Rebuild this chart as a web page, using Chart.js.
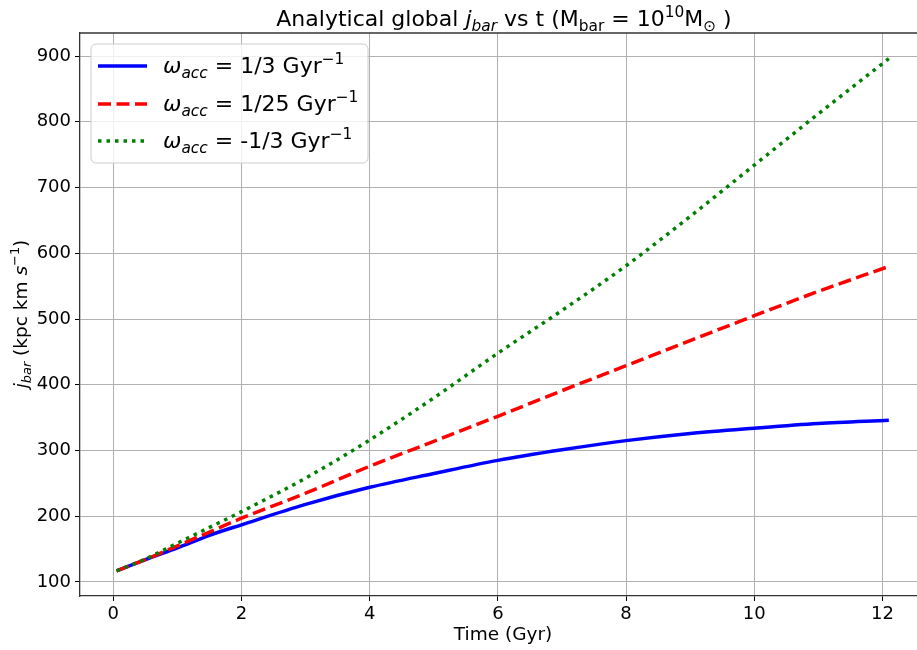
<!DOCTYPE html>
<html><head><meta charset="utf-8">
<script src="https://cdn.jsdelivr.net/npm/chart.js@4/dist/chart.umd.min.js"></script>
<style>html,body{margin:0;padding:0;overflow:hidden;background:#fff}#wrap{width:940px;height:650px}</style>
</head><body><div id="wrap"><canvas id="c" width="940" height="650"></canvas></div>
<script>
// ---- data ----
const timeGyr = [0.05, 0.5, 1, 1.5, 2, 3, 4, 5, 6, 7, 8, 9, 10, 11, 12.1];
const jbarOmegaThird = [117, 134, 152, 171, 187, 218, 244, 265, 285, 301, 315, 326, 334, 341, 346];
const jbarOmega25 = [117, 134, 155, 176, 197, 235, 276, 314, 352, 391, 429, 467, 505, 542, 580];
const jbarOmegaNegThird = [117, 135, 159, 183, 207, 258, 316, 380, 448, 513, 581, 656, 734, 812, 896];
const xTicks = [0, 2, 4, 6, 8, 10, 12];
const yTicks = [100, 200, 300, 400, 500, 600, 700, 800, 900];
const legendValues = ['1/3', '1/25', '-1/3'];

const FONT = '"DejaVu Sans", sans-serif';
function segFont(s, size) {
  const sz = (s.sub || s.sup) ? size * 0.7 : size;
  return (s.it ? 'italic ' : '') + sz.toFixed(1) + 'px ' + FONT;
}
function richWidth(ctx, segs, size) {
  let w = 0;
  for (const s of segs) { ctx.font = segFont(s, size); w += ctx.measureText(s.t).width; }
  return w;
}
function drawRich(ctx, segs, x, y, size, align) {
  const w = richWidth(ctx, segs, size);
  let cx = align === 'center' ? x - w / 2 : x;
  ctx.textAlign = 'left'; ctx.textBaseline = 'alphabetic';
  for (const s of segs) {
    ctx.font = segFont(s, size);
    const dy = s.sub ? size * 0.22 : (s.sup ? -size * 0.42 : 0);
    ctx.fillText(s.t, cx, y + dy);
    cx += ctx.measureText(s.t).width;
  }
}

const pts = arr => arr.map((v, i) => ({x: timeGyr[i], y: v}));

const decor = {
  id: 'decor',
  afterDraw(chart) {
    const ctx = chart.ctx, a = chart.chartArea;
    ctx.save();
    // top / right spines
    ctx.strokeStyle = '#333'; ctx.lineWidth = 1.3;
    ctx.beginPath(); ctx.moveTo(a.left, a.top); ctx.lineTo(a.right, a.top); ctx.stroke();
    ctx.beginPath(); ctx.moveTo(a.right, a.top); ctx.lineTo(a.right, a.bottom); ctx.stroke();
    ctx.fillStyle = '#000';
    // title
    drawRich(ctx, [
      {t: 'Analytical global '}, {t: 'j', it: true}, {t: 'bar', it: true, sub: true},
      {t: ' vs t (M'}, {t: 'bar', sub: true}, {t: ' = 10'}, {t: '10', sup: true},
      {t: 'M'}, {t: '\u2299', sub: true}, {t: ' )'}
    ], 504, 26, 22, 'center');
    // x title
    drawRich(ctx, [{t: 'Time (Gyr)'}], 503, 640, 18.5, 'center');
    // y title
    ctx.save(); ctx.translate(27, 314); ctx.rotate(-Math.PI / 2);
    drawRich(ctx, [
      {t: 'j', it: true}, {t: 'bar', it: true, sub: true}, {t: ' (kpc km '},
      {t: 's', it: true}, {t: '\u22121', sup: true}, {t: ')'}
    ], 0, 0, 18.5, 'center');
    ctx.restore();
    // legend
    const lx = 91, ly = 44, lw = 277, lh = 119, r = 5;
    ctx.fillStyle = 'rgba(255,255,255,0.8)';
    ctx.strokeStyle = '#cccccc'; ctx.lineWidth = 1;
    ctx.beginPath();
    ctx.moveTo(lx + r, ly); ctx.lineTo(lx + lw - r, ly); ctx.arcTo(lx + lw, ly, lx + lw, ly + r, r);
    ctx.lineTo(lx + lw, ly + lh - r); ctx.arcTo(lx + lw, ly + lh, lx + lw - r, ly + lh, r);
    ctx.lineTo(lx + r, ly + lh); ctx.arcTo(lx, ly + lh, lx, ly + lh - r, r);
    ctx.lineTo(lx, ly + r); ctx.arcTo(lx, ly, lx + r, ly, r); ctx.closePath();
    ctx.fill(); ctx.stroke();
    const rows = [66, 104, 141];
    chart.data.datasets.forEach((ds, i) => {
      const y = rows[i];
      ctx.strokeStyle = ds.borderColor; ctx.lineWidth = ds.borderWidth;
      ctx.setLineDash(ds.borderDash || []); ctx.lineCap = 'butt';
      ctx.beginPath(); ctx.moveTo(98, y); ctx.lineTo(147, y); ctx.stroke();
      ctx.setLineDash([]);
      ctx.fillStyle = '#000';
      drawRich(ctx, [
        {t: '\u03c9', it: true}, {t: 'acc', it: true, sub: true},
        {t: ' = ' + legendValues[i] + ' Gyr'}, {t: '\u22121', sup: true}
      ], 163, y + 7, 22, 'left');
    });
    ctx.restore();
  }
};

new Chart(document.getElementById('c'), {
  type: 'line',
  data: {
    datasets: [
      {label: 'omega 1/3', order: 2, data: pts(jbarOmegaThird), borderColor: '#0000ff', borderWidth: 3.5, pointRadius: 0, cubicInterpolationMode: 'monotone', fill: false},
      {label: 'omega 1/25', order: 1, data: pts(jbarOmega25), borderColor: '#ff0000', borderWidth: 3.5, borderDash: [13, 5.5], pointRadius: 0, cubicInterpolationMode: 'monotone', fill: false},
      {label: 'omega -1/3', order: 0, data: pts(jbarOmegaNegThird), borderColor: '#008000', borderWidth: 3.5, borderDash: [3.5, 5], pointRadius: 0, cubicInterpolationMode: 'monotone', fill: false}
    ]
  },
  options: {
    responsive: false, animation: false, devicePixelRatio: 1,
    layout: {padding: {top: 33, right: 14, left: 0, bottom: 0}},
    plugins: {legend: {display: false}, title: {display: false}, tooltip: {enabled: false}},
    scales: {
      x: {
        type: 'linear', min: -0.52, max: 12.68,
        afterFit: s => { s.height = 54; },
        afterBuildTicks: s => { s.ticks = xTicks.map(v => ({value: v})); },
        grid: {color: '#b0b0b0', lineWidth: 1, drawTicks: true, tickLength: 5, tickColor: '#000', tickWidth: 1},
        border: {display: true, color: '#333', width: 1.3},
        ticks: {font: {family: 'DejaVu Sans', size: 18}, color: '#000', padding: 3, maxRotation: 0}
      },
      y: {
        type: 'linear', min: 78.7, max: 935,
        afterFit: s => { s.width = 80; },
        afterBuildTicks: s => { s.ticks = yTicks.map(v => ({value: v})); },
        grid: {color: '#b0b0b0', lineWidth: 1, drawTicks: true, tickLength: 5, tickColor: '#000', tickWidth: 1},
        border: {display: true, color: '#333', width: 1.3},
        ticks: {font: {family: 'DejaVu Sans', size: 18}, color: '#000', padding: 4}
      }
    }
  },
  plugins: [decor]
});
</script></body></html>
